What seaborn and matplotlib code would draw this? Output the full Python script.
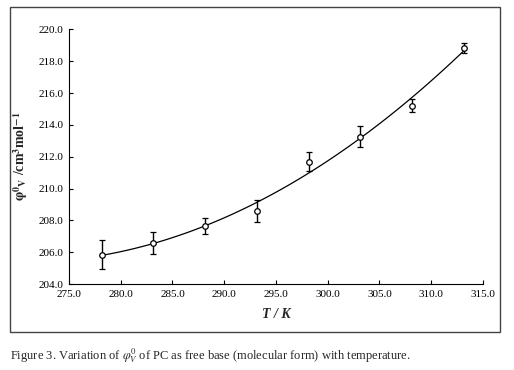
import numpy as np
import pandas as pd
import matplotlib
matplotlib.use("Agg")
import matplotlib.pyplot as plt
import seaborn as sns
from matplotlib.patches import Rectangle

# данные
temperature = [278.15, 283.15, 288.15, 293.15, 298.15, 303.15, 308.15, 313.15]
phi_v = [205.85, 206.55, 207.65, 208.58, 211.70, 213.27, 215.22, 218.85]
phi_err = [0.93, 0.69, 0.50, 0.70, 0.60, 0.64, 0.42, 0.30]

x_ticks = [275.0, 280.0, 285.0, 290.0, 295.0, 300.0, 305.0, 310.0, 315.0]
y_ticks = [204.0, 206.0, 208.0, 210.0, 212.0, 214.0, 216.0, 218.0, 220.0]

df = pd.DataFrame({"T": temperature, "phi": phi_v, "err": phi_err})

sns.set_style("ticks")
plt.rcParams["font.family"] = ["Liberation Serif", "DejaVu Serif"]
plt.rcParams["mathtext.fontset"] = "stix"

fig = plt.figure(figsize=(5.14, 3.70), dpi=100)
ax = fig.add_axes([0.1342, 0.2324, 0.8055, 0.688])

# квадратичная аппроксимация
sns.regplot(data=df, x="T", y="phi", order=2, ci=None, scatter=False,
            line_kws={"color": "black", "lw": 0.9}, ax=ax)
ax.errorbar(df["T"], df["phi"], yerr=df["err"], fmt="o", ms=4.0,
            mfc="white", mec="black", mew=0.9, ecolor="black",
            elinewidth=1.0, capsize=2.5, capthick=1.0, zorder=3)

ax.set_xlim(275, 315)
ax.set_ylim(204, 220)
ax.set_xticks(x_ticks)
ax.set_yticks(y_ticks)
ax.set_xticklabels([f"{v:.1f}" for v in x_ticks], fontsize=8)
ax.set_yticklabels([f"{v:.1f}" for v in y_ticks], fontsize=8)
ax.tick_params(direction="in", length=3, width=0.8, colors="black", pad=4)
for side in ["top", "right"]:
    ax.spines[side].set_visible(False)
for side in ["left", "bottom"]:
    ax.spines[side].set_linewidth(0.8)
    ax.spines[side].set_color("black")

ax.set_xlabel("T / K", fontsize=10, style="italic", fontweight="bold")
ax.set_ylabel(r"$\boldsymbol{\varphi}^{\mathbf{0}}{}_{\mathbf{V}}$ /cm$^{\mathbf{3}}$mol$^{\mathbf{-1}}$",
              fontsize=10, fontweight="bold")
ax.xaxis.set_label_coords(0.5, -0.094)
ax.yaxis.set_label_coords(-0.094, 0.5)

# рамка вокруг рисунка
fig.patches.append(Rectangle((0.0195, 0.1027), 0.953, 0.878, transform=fig.transFigure,
                             fill=False, edgecolor="#444444", lw=1.0))

fig.text(0.0195, 0.038,
         r"Figure 3. Variation of $\varphi_V^{0}$ of PC as free base (molecular form) with temperature.",
         fontsize=9, ha="left", va="center")

fig.savefig("out.png", dpi=100)
